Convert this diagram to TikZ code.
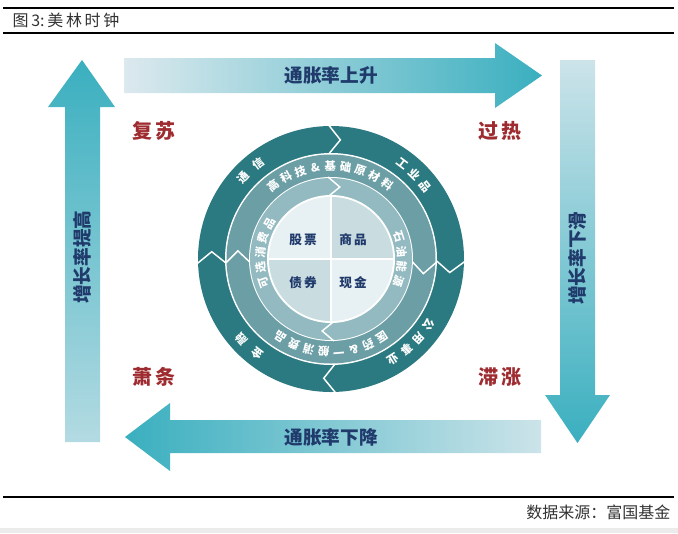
\documentclass[tikz,border=0pt]{standalone}
\usepackage{fontspec}
\setmainfont{Noto Sans CJK SC}
\definecolor{ringdark}{HTML}{2C7A81}
\definecolor{ringmid}{HTML}{6B9EA5}
\definecolor{ringlight}{HTML}{92BAC0}
\definecolor{quadpale}{HTML}{E7F0F2}
\definecolor{quaddark}{HTML}{C9DDE1}
\definecolor{arrowteal}{HTML}{3AAFBF}
\definecolor{arrowpale}{HTML}{DCE9EE}
\definecolor{navy}{HTML}{1F3A6B}
\definecolor{phasered}{HTML}{9E2B2F}
\tikzset{
  phase/.style={text=phasered,font=\fontsize{15}{15}\selectfont\bfseries},
  flowtext/.style={text=navy,font=\fontsize{14}{14}\selectfont\bfseries},
  ringtext/.style={text=white,font=\fontsize{8.5}{8.5}\selectfont\bfseries,inner sep=0pt},
  asset/.style={text=navy,font=\fontsize{9.5}{9.5}\selectfont\bfseries},
  notch/.style={white,line width=1.1pt,line join=miter},
  caption/.style={text=black!80,font=\fontsize{12}{12}\selectfont},
}
% characters set along a circle, read clockwise
\newcommand\ringlabel[5]{%
  \foreach \ch [count=\k from 0] in {#5}
    \node[ringtext,rotate={#3-\k*#4-90}] (#1\k) at ({#3-\k*#4}:#2) {\ch};
}
\begin{document}
\begin{tikzpicture}[x=0.75pt,y=0.75pt]
    \useasboundingbox (0,0) rectangle (678,-533);
    %% header and footer
    \draw[line width=0.9pt] (3,-8) -- (674,-8);
    \draw[line width=0.9pt] (3,-33) -- (674,-33);
    \node[caption,anchor=west] (title) at (8,-20.5) {图\hspace{2pt}3:\hspace{2pt}美\hspace{2pt}林\hspace{2pt}时\hspace{2pt}钟};
    \draw[line width=0.9pt] (3,-497) -- (674,-497);
    \node[caption,anchor=east] (source) at (675,-512) {数据来源：富国基金};
    \fill[black!8] (0,-528) rectangle (678,-533);
    %% arrows round the clock
    \shade[left color=arrowpale,right color=arrowteal] (124,-58) -- (495,-58) -- (495,-43) -- (542,-75.5) -- (495,-108) -- (495,-93) -- (124,-93) -- cycle;
    \node[flowtext] (influp) at (331,-75.5) {通胀率上升};
    \shade[top color=arrowpale!90!arrowteal,bottom color=arrowteal] (560,-60) -- (595,-60) -- (595,-395) -- (610,-395) -- (577.5,-443) -- (545,-395) -- (560,-395) -- cycle;
    \node[flowtext,rotate=90] (growdown) at (577.5,-258) {增长率下滑};
    \shade[left color=arrowteal,right color=arrowpale!90!arrowteal] (541,-420) -- (170,-420) -- (170,-403) -- (125,-437) -- (170,-471) -- (170,-453) -- (541,-453) -- cycle;
    \node[flowtext] (infldown) at (331,-437) {通胀率下降};
    \shade[top color=arrowteal,bottom color=arrowpale!75!arrowteal] (65,-442) -- (65,-107) -- (48,-107) -- (82,-60) -- (115,-107) -- (100,-107) -- (100,-442) -- cycle;
    \node[flowtext,rotate=90] (growup) at (82.5,-257) {增长率提高};
    %% phases
    \node[phase] (fusu) at (154,-131) {复\,苏};
    \node[phase] (guore) at (500,-131) {过\,热};
    \node[phase] (xiaotiao) at (154,-377) {萧\,条};
    \node[phase] (zhizhang) at (500,-377) {滞\,涨};
    %% the clock
    \begin{scope}[shift={(331,-259)}]
        \fill[ringdark] (0,0) circle (133);
        \fill[white] (0,0) circle (106);
        \fill[ringmid] (0,0) circle (104.5);
        \fill[white] (0,0) circle (82);
        \fill[ringlight] (0,0) circle (81);
        \fill[white] (0,0) circle (64);
        \fill[quadpale] (0,0) circle (62);
        \fill[quaddark] (0,0) -- (62,0) arc[start angle=0,end angle=90,radius=62] -- cycle;
        \fill[quaddark] (0,0) -- (-62,0) arc[start angle=180,end angle=270,radius=62] -- cycle;
        \draw[white,line width=1.1pt] (-62,0) -- (62,0) (0,-62) -- (0,62);
        %% notches, pointing clockwise
        \foreach \a in {91,-1,272,182}
            \draw[notch] (\a:134) -- (\a-5.5:119.5) -- (\a:105.5);
        \foreach \a in {-2,182}
            \draw[notch] (\a:105) -- (\a-7:93.5) -- (\a:81.5);
        \foreach \a in {92,272}
            \draw[notch] (\a:82) -- (\a-9:72.5) -- (\a:63);
        %% sectors
        \ringlabel{tx}{120}{137}{10}{通,信}
        \ringlabel{gy}{119}{53}{7.6}{工,业,品}
        \ringlabel{gg}{118}{-34}{8}{公,用,事,业}
        \ringlabel{jr}{120}{232}{10}{金,融}
        \ringlabel{gk}{93}{128}{9.4}{高,科,技,\&,基,础,原,材,料}
        \ringlabel{sy}{71}{18}{12}{石,油,能,源}
        \ringlabel{yy}{93}{-57}{9.4}{医,药,\&,一,般,消,费,品}
        \ringlabel{kx}{71}{199}{12.25}{可,选,消,费,品}
    \end{scope}
    \node[asset] (gupiao) at (303,-240) {股\,票};
    \node[asset] (shangpin) at (353,-240) {商\,品};
    \node[asset] (zhaiquan) at (303,-283) {债\,券};
    \node[asset] (xianjin) at (353,-283) {现\,金};
\end{tikzpicture}
\end{document}
